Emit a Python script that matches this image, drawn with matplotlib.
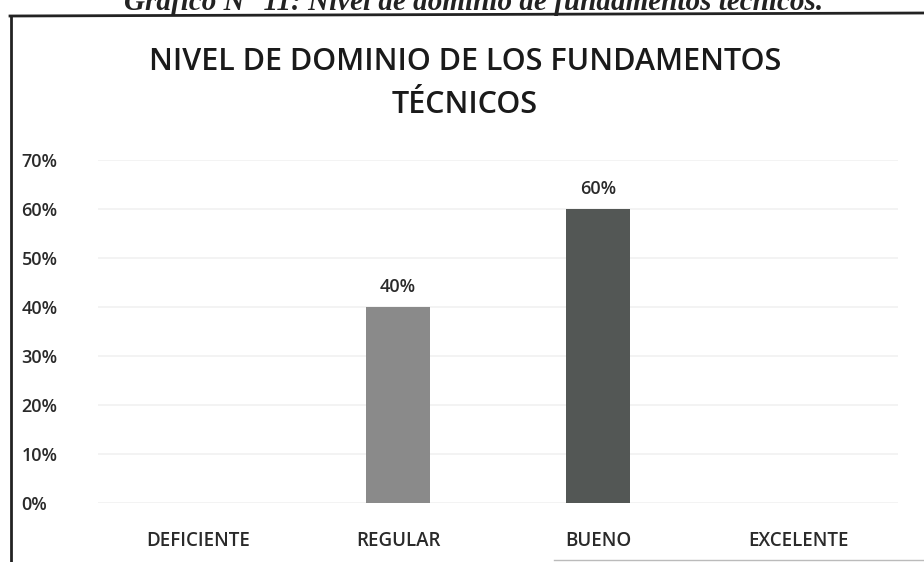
import matplotlib
matplotlib.use('Agg')
import matplotlib.pyplot as plt
from matplotlib.lines import Line2D

categorias = ['DEFICIENTE', 'REGULAR', 'BUENO', 'EXCELENTE']
porcentajes = [0, 40, 60, 0]
colores = ['#8c8c8c', '#8a8a8a', '#535755', '#8c8c8c']
yticks = [0, 10, 20, 30, 40, 50, 60, 70]

plt.rcParams['font.family'] = ['Open Sans', 'DejaVu Sans']

fig = plt.figure(figsize=(9.24, 5.62), dpi=100)
ax = fig.add_axes([0.106, 0.105, 0.866, 0.61])

x = range(len(categorias))
bars = ax.bar(x, porcentajes, width=0.32, color=colores, zorder=2)

# etiquetas solo para barras con valor
for b, v in zip(bars, porcentajes):
    if v > 0:
        ax.text(b.get_x() + b.get_width() / 2, v + 2.2, f'{v}%',
                ha='center', va='bottom', fontsize=13, fontweight='semibold',
                color='#2a2a2a')

ax.set_ylim(0, 70)
ax.set_xlim(-0.5, len(categorias) - 0.5)
ax.set_yticks(yticks)
ax.set_yticklabels([f'{t}%' for t in yticks], fontsize=13, fontweight='semibold',
                   color='#2a2a2a')
ax.set_xticks(list(x))
ax.set_xticklabels(categorias, fontsize=13.5, fontweight='semibold', color='#2a2a2a')
ax.tick_params(axis='both', length=0)
ax.tick_params(axis='x', pad=20)
ax.tick_params(axis='y', pad=55)
for lbl in ax.get_yticklabels():
    lbl.set_horizontalalignment('left')
ax.grid(axis='y', color='#f1f1f1', linewidth=1.2, zorder=0)
for s in ax.spines.values():
    s.set_visible(False)

# titulo del grafico
fig.text(0.503, 0.890, 'NIVEL DE DOMINIO DE LOS FUNDAMENTOS', ha='center', va='center',
         fontsize=22, fontweight='semibold', color='#1a1a1a')
fig.text(0.503, 0.813, 'TÉCNICOS', ha='center', va='center', fontsize=22,
         fontweight='semibold', color='#1a1a1a')

# leyenda del documento, cortada arriba
fig.text(0.513, 0.982, 'Gráfico N° 11: Nivel de dominio de fundamentos técnicos.',
         ha='center', va='baseline', fontsize=21, fontweight='bold', fontstyle='italic',
         family='Liberation Serif', color='#222222')

# marco escaneado
fig.add_artist(Line2D([10 / 924, 1], [1 - 16 / 562, 1 - 13 / 562], color='#222222', lw=2))
fig.add_artist(Line2D([11 / 924, 11 / 924], [1 - 16 / 562, 0], color='#222222', lw=2))
fig.add_artist(Line2D([0.6, 1], [2 / 562, 2 / 562], color='#bbbbbb', lw=1))

fig.savefig('out.png', dpi=100, facecolor='white')
